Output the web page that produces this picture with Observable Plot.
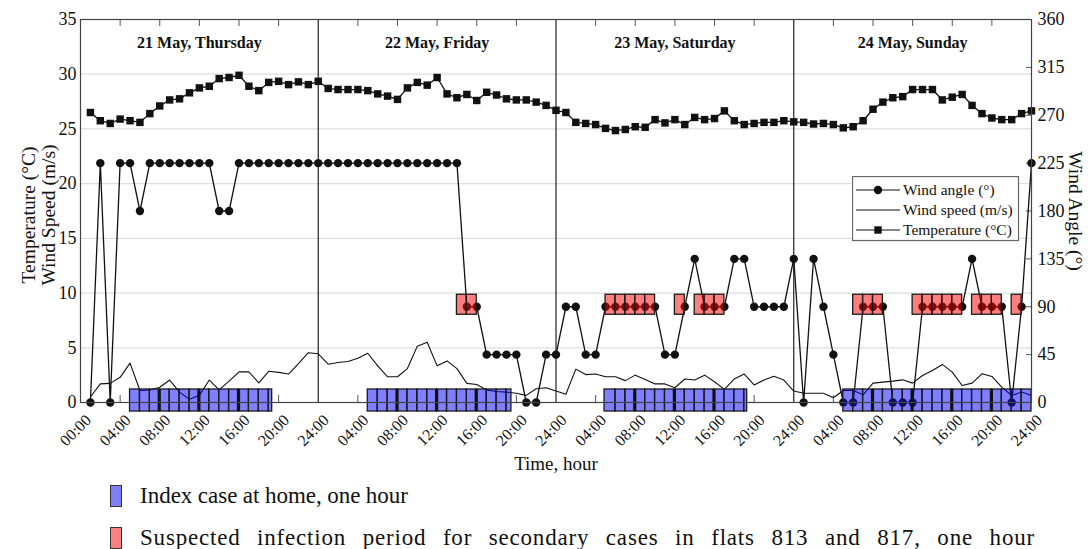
<!DOCTYPE html>
<html><head><meta charset="utf-8">
<script src="https://cdn.jsdelivr.net/npm/d3@7"></script>
<script src="https://cdn.jsdelivr.net/npm/@observablehq/plot@0.6"></script>
<style>
body{margin:0;background:#fff;font-family:"Liberation Serif","Times New Roman",serif;}
#wrap{position:relative;width:1088px;height:549px;overflow:hidden;background:#fff;}
.lg{position:absolute;font-family:"Liberation Serif","Times New Roman",serif;font-size:23px;line-height:23px;white-space:nowrap;color:#111;}
.sw{position:absolute;width:10px;height:20px;border:1.5px solid #333;}
</style></head><body><div id="wrap"></div><script>
// ---- data ----
const dayLabels = ["21 May, Thursday", "22 May, Friday", "23 May, Saturday", "24 May, Sunday"];
const dayStarts = [0, 24, 48, 72];
const tickHours = [0,4,8,12,16,20,24,28,32,36,40,44,48,52,56,60,64,68,72,76,80,84,88,92,96];
const gridVals = [5, 10, 15, 20, 25, 30];
const leftTicks = [0, 5, 10, 15, 20, 25, 30, 35];
const angleTicks = [0, 45, 90, 135, 180, 225, 270, 315, 360];

// hourly values, hour 1 .. 96
const temperature = [
 26.5,25.75,25.5,25.9,25.75,25.6,26.4,27.1,27.65,27.75,28.3,28.75,28.9,29.6,29.7,29.9,28.9,28.5,29.25,29.35,29.05,29.3,29.05,29.35,
 28.7,28.6,28.6,28.6,28.5,28.2,28.0,27.7,28.75,29.25,29.0,29.7,28.2,27.85,28.15,27.6,28.35,28.1,27.75,27.65,27.65,27.45,27.15,26.7,
 26.5,25.6,25.5,25.4,25.05,24.85,24.95,25.2,25.15,25.85,25.55,25.85,25.4,26.05,25.85,25.95,26.65,25.75,25.4,25.5,25.6,25.6,25.75,25.65,
 25.6,25.45,25.5,25.4,25.1,25.2,25.75,26.8,27.45,27.85,27.95,28.6,28.6,28.6,27.65,27.9,28.15,27.15,26.4,26.0,25.85,25.85,26.4,26.65];
const windAngle = [
 0,225,0,225,225,180,225,225,225,225,225,225,225,180,180,225,225,225,225,225,225,225,225,225,
 225,225,225,225,225,225,225,225,225,225,225,225,225,225,90,90,45,45,45,45,0,0,45,45,
 90,90,45,45,90,90,90,90,90,90,45,45,90,135,90,90,90,135,135,90,90,90,90,135,
 0,135,90,45,0,0,90,90,90,0,0,0,90,90,90,90,90,135,90,90,90,0,90,225];
const windSpeed = [
 0.5,1.7,1.75,2.3,3.6,1.1,1.15,1.4,2.05,0.95,0.3,0.65,2.05,1.15,1.95,2.8,2.8,1.8,2.85,2.75,2.6,3.55,4.55,4.45,
 3.5,3.65,3.75,4.05,4.5,3.35,2.35,2.35,3.1,5.15,5.5,3.35,3.8,3.1,1.75,1.65,1.15,1.0,0.95,0.85,0.65,1.25,1.35,1.05,
 0.76,3.05,2.55,2.6,2.35,2.35,2.0,2.5,2.1,1.7,1.7,1.35,2.15,2.05,2.5,1.9,1.2,2.15,2.6,1.6,2.05,2.4,2.05,1.05,
 0.85,0.85,0.85,0.43,1.1,1.1,0.7,1.77,1.86,1.95,2.07,1.77,2.47,2.93,3.48,2.77,1.55,1.77,2.62,2.38,1.4,0.64,0.95,0.64];

// index case at home (start hour, end hour), wind-angle level of the band
const homeIntervals = [[5, 19.35], [29, 43.5], [52.9, 67.3], [77, 96]];
const homeLevel = 0;
// suspected infection periods
const infectIntervals = [[38,40],[53,58],[60,61],[62,65],[78,81],[84,89],[90,93],[94,95]];
const infectLevel = 90;

// ---- build ----
const W = 1088, H = 475, mL = 80, mR = 57, mT = 19, mB = 73;
const innerH = H - mT - mB, innerW = W - mL - mR;
const K = 35 / 360;
const hours = d3.range(1, 97);
const tempData = hours.map((h, i) => ({h, v: temperature[i]}));
const speedData = hours.map((h, i) => ({h, v: windSpeed[i]}));
const angleData = hours.map((h, i) => ({h, a: windAngle[i]}));

function cells(intervals) {
  return intervals.flatMap(([s, e]) => {
    const edges = [s];
    for (let k = Math.floor(s) + 1; k < e - 0.01; k++) if (k - s > 0.5) edges.push(k);
    edges.push(e);
    return d3.pairs(edges).map(([a, b]) => ({a, b}));
  });
}
const blueCells = cells(homeIntervals);
const redCells = cells(infectIntervals);
const thickDiv = homeIntervals.flatMap(([s, e]) => tickHours.filter(t => t > s + 0.5 && t < e - 0.2));
const fmt = h => h === 0 ? "00:00" : (h % 24 === 0 ? "24:00" : String(h % 24).padStart(2, "0") + ":00");

const blueY = {y1: () => homeLevel * K, y2: () => homeLevel * K, insetTop: -13, insetBottom: -9};
const redY = {y1: () => infectLevel * K, y2: () => infectLevel * K, insetTop: -12, insetBottom: -8};
const serif = "Liberation Serif, Times New Roman, serif";

const plot = Plot.plot({
  width: W, height: H, marginLeft: mL, marginRight: mR, marginTop: mT, marginBottom: mB,
  x: {domain: [0, 96], axis: null},
  y: {domain: [0, 35]},
  style: {fontFamily: serif, fontSize: "17px", color: "#111", background: "transparent", overflow: "visible"},
  marks: [
    Plot.ruleY(gridVals, {stroke: "#dedede", strokeWidth: 1.3}),
    Plot.ruleX([24, 48, 72], {stroke: "#222", strokeWidth: 1.2}),
    Plot.tickX(tickHours.filter(h => h % 24), {x: d => d, insetBottom: innerH - 7, stroke: "#555"}),
    Plot.tickX(tickHours.filter(h => h % 24), {x: d => d, insetTop: innerH - 7, stroke: "#555"}),
    Plot.tickY(angleTicks, {y: d => d * K, insetLeft: innerW - 5, stroke: "#555"}),
    Plot.line(speedData, {x: "h", y: "v", stroke: "#111", strokeWidth: 1.1}),
    Plot.line(tempData, {x: "h", y: "v", stroke: "#111", strokeWidth: 1.3}),
    Plot.dot(tempData, {x: "h", y: "v", symbol: "square", r: 4.2, fill: "#111"}),
    Plot.line(angleData, {x: "h", y: d => d.a * K, stroke: "#111", strokeWidth: 1.3}),
    Plot.dot(angleData, {x: "h", y: d => d.a * K, r: 4.2, fill: "#111"}),
    Plot.rect(blueCells, {x1: "a", x2: "b", ...blueY, fill: "#0000ff", fillOpacity: 0.5, stroke: "#1a1a1a", strokeWidth: 1.3}),
    Plot.rect(thickDiv, {x1: d => d, x2: d => d, ...blueY, insetLeft: -1.6, insetRight: -1.6, fill: "#111"}),
    Plot.rect(redCells, {x1: "a", x2: "b", ...redY, fill: "#ff0000", fillOpacity: 0.5, stroke: "#1a1a1a", strokeWidth: 1.3}),
    Plot.frame({stroke: "#444", strokeWidth: 1.2}),
    Plot.axisY(leftTicks, {anchor: "left", tickSize: 0, tickPadding: 4, fontSize: 18, fontFamily: serif, label: null}),
    Plot.axisY(angleTicks.map(a => a * K), {anchor: "right", tickSize: 0, tickPadding: 6, tickFormat: d => Math.round(d / K), fontSize: 18, fontFamily: serif, label: null}),
    Plot.text(tickHours, {x: d => d, text: fmt, frameAnchor: "bottom", rotate: -45, textAnchor: "end", lineAnchor: "middle", dx: 8, dy: 15, fontSize: 16, fontFamily: serif}),
    Plot.text(["Temperature (°C)\nWind Speed (m/s)"], {frameAnchor: "left", textAnchor: "middle", lineAnchor: "middle", rotate: -90, dx: -42, dy: 4, fontSize: 19.5, lineHeight: 1.05, fontFamily: serif}),
    Plot.text(["Wind Angle (°)"], {frameAnchor: "right", textAnchor: "middle", lineAnchor: "middle", rotate: 90, dx: 44, fontSize: 19.5, fontFamily: serif}),
    Plot.text(["Time, hour"], {frameAnchor: "bottom", lineAnchor: "middle", dy: 61, fontSize: 19, fontFamily: serif}),
    Plot.text(dayLabels, {x: (d, i) => dayStarts[i] + 12, frameAnchor: "top", lineAnchor: "middle", dy: 23, fontWeight: "bold", fontSize: 16, fontFamily: serif})
  ]
});
const wrap = document.getElementById("wrap");
plot.style.position = "absolute"; plot.style.left = "0"; plot.style.top = "0";
wrap.appendChild(plot);

// inner legend
const legendItems = [
  {label: "Wind angle (°)", marker: "circle"},
  {label: "Wind speed (m/s)", marker: null},
  {label: "Temperature (°C)", marker: "square"}
];
const ns = "http://www.w3.org/2000/svg";
const lsv = document.createElementNS(ns, "svg");
lsv.setAttribute("width", 168); lsv.setAttribute("height", 66);
lsv.style.cssText = "position:absolute;left:852px;top:176px;";
let inner = `<rect x="0.5" y="0.5" width="166" height="64" fill="#fff" stroke="#666" stroke-width="1.2"/>`;
legendItems.forEach((it, i) => {
  const y = 14 + i * 20;
  inner += `<line x1="4" x2="48" y1="${y}" y2="${y}" stroke="#111" stroke-width="1.2"/>`;
  if (it.marker === "circle") inner += `<circle cx="26" cy="${y}" r="4.2" fill="#111"/>`;
  if (it.marker === "square") inner += `<rect x="22.3" y="${y - 3.7}" width="7.4" height="7.4" fill="#111"/>`;
  inner += `<text x="51" y="${y + 5}" font-size="15.5" font-family="Liberation Serif, serif" fill="#111">${it.label}</text>`;
});
lsv.innerHTML = inner;
wrap.appendChild(lsv);

// bottom legend
const bottomLegend = [
  {label: "Index case at home, one hour", color: "#8080ff", top: 484, target: 268, ls: 0},
  {label: "Suspected infection period for secondary cases in flats 813 and 817, one hour", color: "#ff8080", top: 526, target: 895, ls: 0.8}
];
bottomLegend.forEach(it => {
  const sw = document.createElement("div");
  sw.className = "sw"; sw.style.left = "110px"; sw.style.top = (it.top + 1) + "px"; sw.style.background = it.color;
  wrap.appendChild(sw);
  const t = document.createElement("div");
  t.className = "lg"; t.style.left = "140px"; t.style.top = it.top + "px"; t.textContent = it.label;
  t.style.letterSpacing = it.ls + "px";
  wrap.appendChild(t);
  const w = t.getBoundingClientRect().width;
  const spaces = (it.label.match(/ /g) || []).length;
  t.style.wordSpacing = ((it.target - w) / spaces).toFixed(2) + "px";
});
</script></body></html>
